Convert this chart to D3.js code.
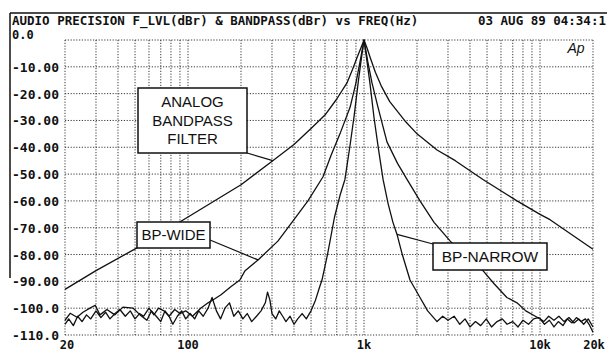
<!DOCTYPE html>
<html>
<head>
<meta charset="utf-8">
<script src="https://cdn.jsdelivr.net/npm/d3@7"></script>
<style>
  html, body { margin: 0; padding: 0; background: #fff; overflow: hidden; }
  svg { display: block; }
  .mono { font-family: "DejaVu Sans Mono", "Liberation Mono", monospace; font-weight: bold; fill: #111; }
  .lbl { font-family: "Liberation Sans", Arial, sans-serif; fill: #111; }
</style>
</head>
<body>
<svg id="chart" width="607" height="352"></svg>
<script>
// --- data (Hz, dBr) ---
const TITLE = "AUDIO PRECISION F_LVL(dBr) & BANDPASS(dBr) vs FREQ(Hz)";
const STAMP = "03 AUG 89 04:34:1";
const Y_TICKS = [0, -10, -20, -30, -40, -50, -60, -70, -80, -90, -100, -110];
const Y_TICK_LABELS = ["0.0", "-10.00", "-20.00", "-30.00", "-40.00", "-50.00", "-60.00", "-70.00", "-80.00", "-90.00", "-100.0", "-110.0"];
const X_GRID = [20, 30, 40, 50, 60, 70, 80, 90, 100, 200, 300, 400, 500, 600, 700, 800, 900,
  1000, 2000, 3000, 4000, 5000, 6000, 7000, 8000, 9000, 10000, 20000];
const X_TICKS = [20, 100, 1000, 10000, 20000];
const X_TICK_LABELS = ["20", "100", "1k", "10k", "20k"];

const analogFreq = [20, 30, 51, 100, 200, 303, 400, 500, 600, 700, 800, 860, 920, 960, 1000,
  1040, 1090, 1160, 1250, 1400, 1700, 2000, 2600, 3300, 4740, 7400, 10000, 11400, 20000];
const analogDb = [-93, -86, -77.6, -66, -54, -45, -39, -33, -28, -22, -16, -11, -6, -3, 0,
  -3, -7, -12, -17, -23, -30, -35, -41, -45, -52, -60, -65, -67, -78];

const wideFreq = [20, 21, 22.3, 23.6, 25, 26.5, 28, 30, 32, 34, 36, 38.5, 41, 44, 47, 50, 53, 56, 60,
  64, 68, 73, 78, 84, 90, 97, 106, 118, 130, 142, 154, 175, 197, 211, 250, 324, 400, 480, 585,
  650, 730, 834, 900, 950, 1000, 1050, 1110, 1200, 1350, 1550, 1755, 2080, 2500, 3090, 3800,
  4740, 5500, 6480, 7400, 8300, 9400, 10000, 10600, 11300, 12000, 12700, 13500, 14300, 15200,
  16100, 17100, 18100, 19000, 20000];
const wideDb = [-106, -104, -106.5, -103, -105, -102.5, -104, -101, -103.5, -101.5, -104, -102,
  -100.5, -103, -101, -104, -102, -103, -100, -102.5, -100, -101, -103, -100.5, -102, -101, -103,
  -100, -98, -96.5, -95, -92, -89.5, -86, -82, -75, -67, -60, -51, -43, -35, -25, -16, -8, 0,
  -8, -16, -25, -38, -46, -52, -60, -68, -75, -81, -86, -91, -96, -98, -101, -103, -104, -106,
  -104.5, -107, -105, -106.5, -104, -105.5, -103.5, -105, -104, -106, -109];

const narrowFreq = [20, 21.4, 23.4, 25.3, 27.7, 29.7, 31.6, 34.6, 38.4, 42.7, 48.8, 53.4, 58.4,
  62, 66, 70, 74, 78, 82, 87, 92, 97, 103, 109, 115, 122, 130, 137, 145, 153, 162, 172, 182,
  193, 205, 217, 230, 245, 260, 275, 283, 292, 300, 315, 330, 345, 360, 380, 400, 420, 445,
  470, 500, 530, 560, 577, 620, 680, 730, 779, 830, 880, 930, 970, 1000, 1030, 1080, 1140,
  1210, 1283, 1370, 1460, 1540, 1650, 1825, 2080, 2300, 2600, 2800, 3000, 3250, 3500, 3750,
  4000, 4300, 4600, 4950, 5300, 5700, 6100, 6500, 7000, 7500, 8000, 8600, 9200, 9800, 10500,
  11200, 12000, 12800, 13700, 14600, 15600, 16600, 17700, 18800, 20000];
const narrowDb = [-104.5, -101.9, -103.4, -101.5, -100, -98.9, -102.5, -100.5, -102.5, -99.6,
  -100, -102.5, -104.5, -101, -103, -105, -101, -103, -106, -103, -101, -104, -102, -104, -101,
  -103, -100, -96, -101, -104, -100, -98, -103, -101, -104, -102, -105, -103, -101, -98, -94,
  -97, -102, -104, -101, -103, -105, -103, -106, -104, -102, -104, -101, -97, -92, -89.5, -80,
  -66, -58, -52, -40, -28, -15, -6, 0, -6, -16, -29, -41, -52, -61, -68, -72.5, -80, -89.5,
  -96, -101, -105, -103, -104.5, -103, -106, -104, -107, -105, -106.5, -104, -107, -105, -104,
  -106, -105, -107, -104.5, -106, -104, -103.5, -105, -103, -104.5, -103, -105, -103.5, -105.5,
  -104, -106, -104, -107];

const LABELS = [
  { lines: ["ANALOG", "BANDPASS", "FILTER"] },
  { lines: ["BP-WIDE"] },
  { lines: ["BP-NARROW"] }
];

// --- drawing ---
const svg = d3.select("#chart");
const x = d3.scaleLog().domain([20, 20000]).range([65, 593]);
const y = d3.scaleLinear().domain([0, -110]).range([40, 335]);

// frame lines of the scanned plot
svg.append("line").attr("x1", 10).attr("x2", 607).attr("y1", 13).attr("y2", 13)
  .attr("stroke", "#111").attr("stroke-width", 1.5);
svg.append("line").attr("x1", 10).attr("x2", 10).attr("y1", 13).attr("y2", 278)
  .attr("stroke", "#111").attr("stroke-width", 1.5);

svg.append("text").attr("class", "mono").attr("x", 12).attr("y", 24.5)
  .style("font-size", "12.5px").text(TITLE);
svg.append("text").attr("class", "mono").attr("x", 478).attr("y", 24.5)
  .style("font-size", "12.5px").text(STAMP);

// grid
const grid = svg.append("g").attr("stroke", "#222").attr("stroke-width", 0.9)
  .attr("stroke-dasharray", "1.2,1.6").attr("fill", "none");
grid.selectAll(".hg").data(Y_TICKS).join("line")
  .attr("x1", x(20)).attr("x2", x(20000))
  .attr("y1", d => y(d)).attr("y2", d => y(d));
grid.selectAll(".vg").data(X_GRID).join("line")
  .attr("x1", d => x(d)).attr("x2", d => x(d))
  .attr("y1", y(0)).attr("y2", y(-110));

// y labels
svg.selectAll(".yl").data(Y_TICKS).join("text")
  .attr("class", "mono")
  .style("font-size", (d, i) => i === 0 ? "12px" : "13px")
  .attr("x", 12)
  .attr("y", (d, i) => i === 0 ? 38.5 : y(d) + 5)
  .text((d, i) => Y_TICK_LABELS[i]);

// x labels
svg.selectAll(".xl").data(X_TICKS).join("text")
  .attr("class", "mono").style("font-size", "12px")
  .attr("text-anchor", "middle")
  .attr("x", (d, i) => i === 0 ? x(d) + 2 : x(d) + (i === 4 ? 1 : 0))
  .attr("y", 348.5)
  .text((d, i) => X_TICK_LABELS[i]);

// curves
const line = d3.line().x(d => x(d[0])).y(d => y(d[1]));
const series = [
  d3.zip(analogFreq, analogDb),
  d3.zip(wideFreq, wideDb),
  d3.zip(narrowFreq, narrowDb)
];
svg.append("g").selectAll("path").data(series).join("path")
  .attr("d", line).attr("fill", "none").attr("stroke", "#111")
  .attr("stroke-width", 1.3).attr("stroke-linejoin", "round");

// Ap logo
svg.append("text").attr("class", "lbl").attr("x", 576).attr("y", 53)
  .attr("text-anchor", "middle").style("font-size", "14px").style("font-style", "italic")
  .text("Ap");

// callout boxes
function callout(box, text, fs, gap, from, to) {
  const g = svg.append("g");
  g.append("line").attr("x1", from[0]).attr("y1", from[1]).attr("x2", to[0]).attr("y2", to[1])
    .attr("stroke", "#111").attr("stroke-width", 1.2);
  g.append("rect").attr("x", box[0]).attr("y", box[1]).attr("width", box[2]).attr("height", box[3])
    .attr("fill", "#fff").attr("stroke", "#111").attr("stroke-width", 1.5);
  const n = text.length;
  text.forEach((t, i) => {
    g.append("text").attr("class", "lbl").style("font-size", fs + "px")
      .attr("text-anchor", "middle").attr("x", box[0] + box[2] / 2)
      .attr("y", box[1] + box[3] / 2 + (i - (n - 1) / 2) * gap + fs * 0.36)
      .text(t);
  });
}
callout([138, 88, 109, 65], LABELS[0].lines, 15, 18.5, [247, 153], [x(303), y(-45)]);
callout([137, 222, 73, 26], LABELS[1].lines, 15, 0, [210, 240], [x(250), y(-82)]);
callout([433, 243, 114, 27], LABELS[2].lines, 15.5, 0, [433, 244], [x(1540), y(-72.5)]);
</script>
</body>
</html>
